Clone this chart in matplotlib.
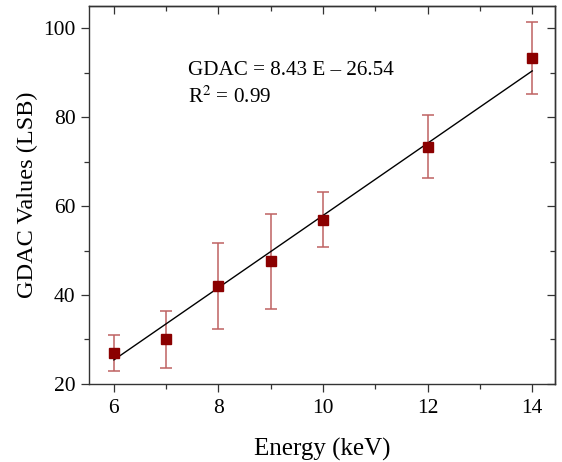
import numpy as np
import matplotlib.pyplot as plt
from matplotlib.ticker import MultipleLocator

plt.rcParams['font.family'] = ['Liberation Serif', 'DejaVu Serif']
plt.rcParams['mathtext.fontset'] = 'stix'

# ----- data ----------------------------------------------------------------
energy_keV = [6, 7, 8, 9, 10, 12, 14]
gdac = [27.0, 30.0, 42.0, 47.6, 56.9, 73.4, 93.3]
gdac_err = [4.0, 6.5, 9.7, 10.7, 6.2, 7.0, 8.0]

# drawn fit line (end points as drawn)
fit_x = [6, 14]
fit_y = [25.4, 90.4]

fit_text = "GDAC = 8.43 E \u2013 26.54"
r2_text = r"R$^{2}$ = 0.99"

# ----- plot ------------------------------------------------------------------
fig = plt.figure(figsize=(5.62, 4.62), dpi=100)
ax = fig.add_axes([0.158, 0.169, 0.83, 0.818])

ax.plot(fit_x, fit_y, color="black", lw=1.0, zorder=2)
ax.errorbar(energy_keV, gdac, yerr=gdac_err, fmt="none",
            ecolor="#bf6262", elinewidth=1.1, capsize=4, capthick=1.1, zorder=1)
ax.plot(energy_keV, gdac, "s", color="#8b0000", ms=7, zorder=3)

ax.set_xlim(5.52, 14.44)
ax.set_ylim(20, 105)
ax.xaxis.set_major_locator(MultipleLocator(2))
ax.xaxis.set_minor_locator(MultipleLocator(1))
ax.yaxis.set_major_locator(MultipleLocator(20))
ax.yaxis.set_minor_locator(MultipleLocator(10))

ax.tick_params(which="both", direction="out", top=False, right=False,
               labelsize=15.5, width=0.9, color="#333333")
ax.tick_params(which="major", length=6)
ax.tick_params(which="minor", length=3.5)
ax.tick_params(axis="x", pad=5)

# mirrored inward ticks on top/right, Origin-style
secx = ax.secondary_xaxis("top")
secx.xaxis.set_major_locator(MultipleLocator(2))
secx.xaxis.set_minor_locator(MultipleLocator(1))
secx.tick_params(which="both", direction="in", labeltop=False, width=0.9,
                 color="#333333")
secx.tick_params(which="major", length=6)
secx.tick_params(which="minor", length=3.5)
secy = ax.secondary_yaxis("right")
secy.yaxis.set_major_locator(MultipleLocator(20))
secy.yaxis.set_minor_locator(MultipleLocator(10))
secy.tick_params(which="both", direction="in", labelright=False, width=0.9,
                 color="#333333")
secy.tick_params(which="major", length=6)
secy.tick_params(which="minor", length=3.5)

for sp in list(ax.spines.values()) + [secx.spines["top"], secy.spines["right"]]:
    sp.set_linewidth(1.0)
    sp.set_color("#333333")

ax.set_xlabel("Energy (keV)", fontsize=18, labelpad=14)
ax.set_ylabel("GDAC Values (LSB)", fontsize=17.5, labelpad=4)

ax.text(0.213, 0.8175, fit_text, transform=ax.transAxes, fontsize=15.2,
        va="baseline")
ax.text(0.213, 0.743, r2_text, transform=ax.transAxes, fontsize=15.2,
        va="baseline")

fig.savefig("out.png", dpi=100)
